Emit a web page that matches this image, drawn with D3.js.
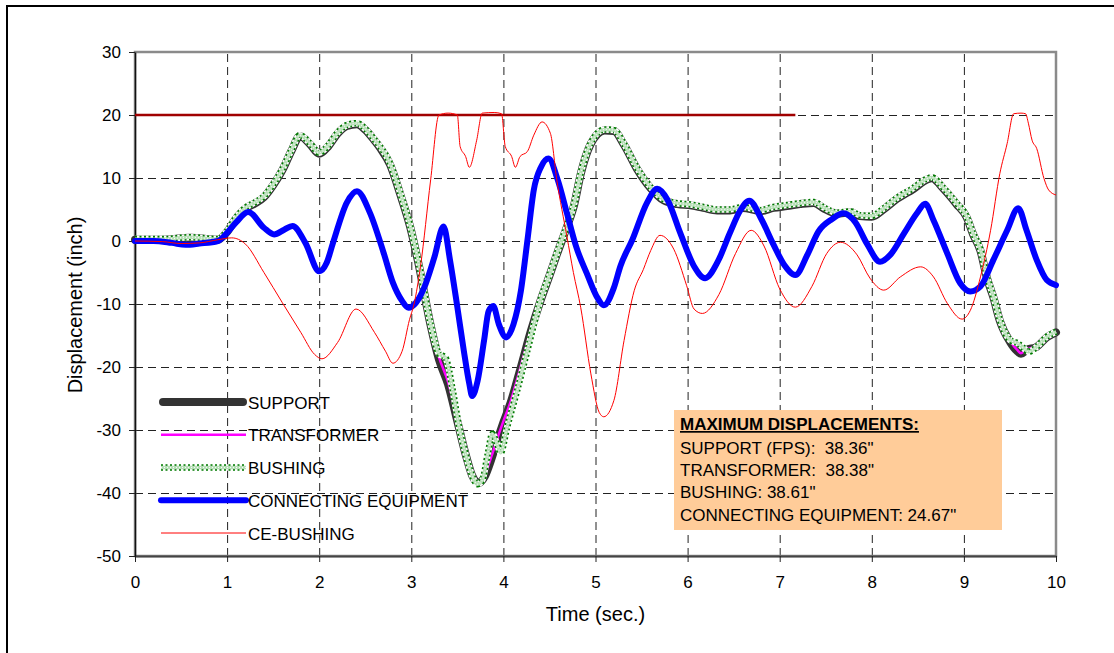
<!DOCTYPE html>
<html>
<head>
<meta charset="utf-8">
<script src="https://cdn.jsdelivr.net/npm/d3@7"></script>
<style>
body { margin: 0; background: #fff; }
text { font-family: "Liberation Sans", Arial, sans-serif; }
</style>
</head>
<body>
<div id="chart"></div>
<script>
const width = 1114
const height = 653

// axis ticks
const timeTicks = [0, 1, 2, 3, 4, 5, 6, 7, 8, 9, 10]
const dispTicks = [-50, -40, -30, -20, -10, 0, 10, 20, 30]

// series, [time (sec), displacement (inch)]
const limitLine = [[0, 20], [7.17, 20]]

const support = [[0,0.2],[0.3,0.2],[0.6,0.5],[0.9,0.2],[1.0,1.45],[1.1,3.65],[1.2,5.15],[1.3,5.95],[1.4,6.95],[1.5,8.85],
  [1.6,11.25],[1.7,14.35],[1.79,16.65],[1.9,15.35],[2.0,13.85],[2.1,15.05],[2.2,17.05],[2.3,18.25],[2.41,18.55],[2.5,17.65],
  [2.6,15.95],[2.66,14.8],[2.77,12.1],[2.88,7.4],[2.99,2.1],[3.08,-3.7],[3.21,-13.4],[3.3,-18.8],[3.4,-22.8],[3.5,-28.6],
  [3.6,-34.4],[3.66,-37.2],[3.73,-38.4],[3.8,-37.3],[3.87,-34.6],[3.94,-31.4],[4.0,-28.8],[4.08,-25.6],[4.19,-20.0],[4.3,-14.2],
  [4.4,-9.6],[4.51,-5.1],[4.58,-2.15],[4.69,2.25],[4.77,5.85],[4.84,10.65],[4.95,15.45],[5.1,17.55],[5.2,17.45],[5.31,15.25],
  [5.45,11.45],[5.6,8.35],[5.74,6.45],[5.89,5.85],[6.03,5.65],[6.17,5.25],[6.32,4.85],[6.46,4.85],[6.6,5.25],[6.79,4.75],
  [6.93,5.25],[7.08,5.55],[7.22,5.85],[7.37,6.05],[7.48,5.15],[7.62,4.35],[7.77,4.55],[7.87,3.95],[8.0,3.85],[8.13,5.05],
  [8.27,6.65],[8.45,8.25],[8.6,9.75],[8.65,9.95],[8.78,8.25],[8.92,5.85],[9.03,3.75],[9.1,1.05],[9.18,-1.55],[9.25,-5.85],
  [9.32,-8.95],[9.39,-12.65],[9.5,-16.0],[9.58,-17.5],[9.62,-17.9],[9.68,-17.3],[9.79,-16.8],[9.9,-15.3],[10,-14.5]]

const transformer = [[0,0.2],[0.3,0.2],[0.6,0.5],[0.9,0.2],[1.0,1.45],[1.1,3.65],[1.2,5.15],[1.3,5.95],[1.4,6.95],[1.5,8.85],
  [1.6,11.25],[1.7,14.35],[1.79,16.65],[1.9,15.35],[2.0,13.85],[2.1,15.05],[2.2,17.05],[2.3,18.25],[2.41,18.55],[2.5,17.65],
  [2.6,15.95],[2.66,14.8],[2.77,12.1],[2.88,7.4],[2.99,2.1],[3.08,-3.6],[3.21,-13.2],[3.3,-18.4],[3.4,-22.4],[3.5,-28.3],
  [3.6,-34.2],[3.66,-37.1],[3.73,-38.4],[3.8,-37.0],[3.87,-34.2],[3.94,-31.1],[4.0,-28.6],[4.08,-25.4],[4.19,-19.8],[4.3,-14.1],
  [4.4,-9.5],[4.51,-5.05],[4.58,-2.1],[4.69,2.3],[4.77,5.9],[4.84,10.7],[4.95,15.5],[5.1,17.6],[5.2,17.5],[5.31,15.3],
  [5.45,11.5],[5.6,8.4],[5.74,6.5],[5.89,5.9],[6.03,5.7],[6.17,5.3],[6.32,4.9],[6.46,4.9],[6.6,5.3],[6.79,4.8],
  [6.93,5.3],[7.08,5.6],[7.22,5.9],[7.37,6.1],[7.48,5.2],[7.62,4.4],[7.77,4.6],[7.87,4.0],[8.0,3.9],[8.13,5.1],
  [8.27,6.7],[8.45,8.3],[8.6,9.8],[8.65,10.0],[8.78,8.3],[8.92,5.9],[9.03,3.8],[9.1,1.1],[9.18,-1.5],[9.25,-5.8],
  [9.32,-8.9],[9.39,-12.6],[9.5,-15.8],[9.58,-17.3],[9.62,-17.8],[9.68,-17.2],[9.79,-16.7],[9.9,-15.25],[10,-14.45]]

const bushing = [[0,0.3],[0.3,0.3],[0.6,0.6],[0.9,0.3],[1.0,1.6],[1.1,3.8],[1.2,5.3],[1.3,6.1],[1.4,7.1],[1.5,9.0],
  [1.6,11.4],[1.7,14.5],[1.79,16.8],[1.9,15.5],[2.0,14.0],[2.1,15.2],[2.2,17.2],[2.3,18.4],[2.41,18.7],[2.5,17.8],
  [2.6,16.1],[2.66,15.0],[2.77,12.3],[2.88,7.6],[2.99,2.3],[3.08,-3.5],[3.21,-13.2],[3.3,-17.9],[3.37,-18.5],[3.45,-23.7],
  [3.52,-29.6],[3.57,-32.7],[3.64,-36.4],[3.72,-38.6],[3.77,-38.0],[3.83,-33.8],[3.88,-30.6],[3.93,-32.2],[3.97,-33.6],[4.04,-29.6],
  [4.15,-23.7],[4.26,-17.4],[4.4,-9.5],[4.51,-5.0],[4.58,-2.0],[4.69,2.4],[4.77,6.0],[4.84,10.8],[4.95,15.6],[5.1,17.7],
  [5.2,17.6],[5.31,15.4],[5.45,11.6],[5.6,8.5],[5.74,6.6],[5.89,6.0],[6.03,5.8],[6.17,5.4],[6.32,5.0],[6.46,5.0],
  [6.6,5.4],[6.79,4.9],[6.93,5.4],[7.08,5.7],[7.22,6.0],[7.37,6.2],[7.48,5.3],[7.62,4.5],[7.77,4.7],[7.87,4.1],
  [8.0,4.0],[8.13,5.2],[8.27,6.8],[8.45,8.4],[8.6,9.9],[8.65,10.1],[8.78,8.4],[8.92,6.0],[9.03,3.9],[9.1,1.2],
  [9.18,-1.4],[9.25,-5.7],[9.32,-8.8],[9.39,-12.5],[9.5,-15.7],[9.58,-16.2],[9.65,-17.0],[9.7,-17.6],[9.79,-16.8],[9.9,-15.2],
  [10,-14.4]]

const connectingEquipment = [[0,0],[0.2,0],[0.4,-0.3],[0.55,-0.6],[0.7,-0.4],[0.9,0],[1.0,1.3],[1.1,3.0],[1.23,4.6],[1.4,2.1],
  [1.51,1.05],[1.62,1.8],[1.71,2.4],[1.85,-0.3],[2.0,-4.8],[2.08,-3.5],[2.15,-0.3],[2.3,6.1],[2.41,7.9],[2.55,4.5],
  [2.7,-1.9],[2.8,-6.6],[2.9,-9.5],[2.97,-10.6],[3.05,-9.8],[3.14,-7.4],[3.25,-2.6],[3.35,2.3],[3.42,-3.0],[3.5,-10.5],
  [3.57,-17.4],[3.63,-22.7],[3.66,-24.6],[3.72,-22.2],[3.79,-15.8],[3.84,-11.1],[3.89,-10.3],[3.95,-13.2],[4.03,-15.3],[4.11,-13.2],
  [4.19,-7.9],[4.26,0],[4.33,8.1],[4.41,11.8],[4.49,13.1],[4.59,9.7],[4.69,4.4],[4.79,-0.9],[4.91,-5.3],[5.02,-9.0],
  [5.09,-10.2],[5.2,-7.4],[5.27,-4.0],[5.4,0.2],[5.56,6.1],[5.67,8.3],[5.78,6.6],[5.92,1.3],[6.07,-4.0],[6.19,-5.9],
  [6.33,-3.2],[6.46,1.3],[6.57,4.8],[6.67,6.4],[6.8,3.5],[6.93,-0.5],[7.05,-3.8],[7.17,-5.4],[7.3,-2.2],[7.42,1.5],
  [7.57,3.5],[7.69,4.4],[7.82,3.0],[7.95,-0.5],[8.09,-3.3],[8.2,-2.2],[8.35,1.2],[8.49,4.4],[8.58,5.9],[8.67,3.3],
  [8.82,-2.0],[8.96,-6.7],[9.07,-8.0],[9.18,-7.2],[9.32,-3.0],[9.47,1.7],[9.59,5.2],[9.68,1.7],[9.79,-3.0],[9.9,-6.2],
  [10,-7.0]]

const ceBushing = [[0,0],[0.3,-0.1],[0.5,-0.4],[0.7,-0.3],[0.9,0.2],[1.05,0.5],[1.2,-0.5],[1.4,-5.0],[1.6,-9.8],[1.8,-14.5],
  [1.95,-18.0],[2.03,-18.7],[2.2,-16.1],[2.4,-10.8],[2.6,-14.5],[2.72,-17.5],[2.8,-19.4],[2.9,-17.5],[2.98,-12.5],[3.03,-10.0],
  [3.1,-4.0],[3.21,9.7],[3.3,20.0],[3.4,20.3],[3.5,20.0],[3.53,15.0],[3.59,13.4],[3.63,11.7],[3.71,16.0],[3.77,20.3],
  [3.9,20.4],[3.98,20.2],[4.02,15.0],[4.09,13.4],[4.13,11.7],[4.18,13.4],[4.26,14.2],[4.33,16.8],[4.42,18.9],[4.51,17.1],
  [4.58,9.7],[4.69,0.7],[4.76,-5.0],[4.84,-10.6],[4.95,-21.1],[5.04,-27.2],[5.09,-27.9],[5.2,-25.3],[5.31,-15.8],[5.42,-7.9],
  [5.52,-4.5],[5.6,-1.5],[5.7,0.9],[5.85,-1.3],[5.99,-7.1],[6.07,-10.8],[6.16,-11.5],[6.34,-8.5],[6.52,-2.0],[6.69,1.7],
  [6.83,-0.8],[7.0,-7.6],[7.17,-10.5],[7.35,-7.2],[7.51,-2.0],[7.66,-0.2],[7.84,-2.2],[7.98,-5.9],[8.13,-7.8],[8.31,-5.7],
  [8.53,-4.1],[8.67,-5.7],[8.82,-9.9],[8.98,-12.4],[9.07,-11.0],[9.18,-5.7],[9.29,1.7],[9.39,10.7],[9.47,15.5],[9.54,20.2],
  [9.62,20.3],[9.67,20.2],[9.7,18.7],[9.74,16.0],[9.79,14.7],[9.87,9.9],[9.92,8.1],[10,7.3]]

const legendNames = ["SUPPORT", "TRANSFORMER", "BUSHING", "CONNECTING EQUIPMENT", "CE-BUSHING"]
const maxTitle = "MAXIMUM DISPLACEMENTS:"
const maxLabels = ["SUPPORT (FPS):  38.36\"", "TRANSFORMER:  38.38\"", "BUSHING: 38.61\"", "CONNECTING EQUIPMENT: 24.67\""]

document.addEventListener('DOMContentLoaded', function ()
{
const svg = d3.select("#chart")
    .append("svg")
    .attr("width", width)
    .attr("height", height)

// outer frame (right/bottom edges fall outside the picture)
svg.append("rect")
    .attr("x", 7)
    .attr("y", 6)
    .attr("width", 1130)
    .attr("height", 670)
    .attr("fill", "white")
    .attr("stroke", "black")
    .attr("stroke-width", 2)

const x = d3.scaleLinear().domain([0, 10]).range([135, 1056])
const y = d3.scaleLinear().domain([-50, 30]).range([556, 52])

/* grid */
svg.append("g")
    .attr("class", "grid")
    .attr("transform", "translate(0,556)")
    .call(d3.axisBottom(x).tickValues(timeTicks.slice(1, -1)).tickSize(-(556 - 52)).tickFormat(""))
svg.append("g")
    .attr("class", "grid")
    .attr("transform", "translate(135,0)")
    .call(d3.axisLeft(y).tickValues(dispTicks.slice(1, -1)).tickSize(-(1056 - 135)).tickFormat(""))
svg.selectAll(".grid .domain").remove()
svg.selectAll(".grid line")
    .attr("stroke", "#333")
    .attr("stroke-width", 1)
    .attr("stroke-dasharray", "8,5")

/* plot border */
svg.append("rect")
    .attr("x", 135)
    .attr("y", 52)
    .attr("width", 1056 - 135)
    .attr("height", 556 - 52)
    .attr("fill", "none")
    .attr("stroke", "#8a8a8a")
    .attr("stroke-width", 2.5)

/* axes */
const xAxis = svg.append("g")
    .attr("transform", "translate(0,556)")
    .call(d3.axisBottom(x).tickValues(timeTicks).tickSize(6).tickPadding(14).tickSizeOuter(0)
        .tickFormat(d => String(d)))
const yAxis = svg.append("g")
    .attr("transform", "translate(135,0)")
    .call(d3.axisLeft(y).tickValues(dispTicks).tickSize(6).tickPadding(8).tickSizeOuter(0)
        .tickFormat(d => String(d)))
xAxis.select(".domain").attr("stroke", "#444").attr("stroke-width", 2)
yAxis.select(".domain").attr("stroke", "#111").attr("stroke-width", 1.5)
svg.selectAll(".tick line").attr("stroke", "#222")
svg.selectAll(".tick text")
    .attr("font-size", 17)
    .attr("font-family", "Liberation Sans, Arial, sans-serif")
    .attr("fill", "black")

svg.append("text")
    .attr("x", (135 + 1056) / 2)
    .attr("y", 621)
    .attr("font-size", 20)
    .attr("text-anchor", "middle")
    .text("Time (sec.)")
svg.append("text")
    .attr("transform", "translate(82,305) rotate(-90)")
    .attr("font-size", 20)
    .attr("text-anchor", "middle")
    .text("Displacement (inch)")

/* series */
const line = d3.line()
    .x(d => x(d[0]))
    .y(d => y(d[1]))
    .curve(d3.curveMonotoneX)

svg.append("path").attr("d", line(limitLine))
    .attr("fill", "none").attr("stroke", "#a00000").attr("stroke-width", 2.5)

function drawSupport(g, d) {
    g.append("path").attr("d", d).attr("fill", "none")
        .attr("stroke", "#333").attr("stroke-width", 8).attr("stroke-linecap", "round").attr("stroke-linejoin", "round")
}
function drawTransformer(g, d) {
    g.append("path").attr("d", d).attr("fill", "none")
        .attr("stroke", "#ff00ff").attr("stroke-width", 2.5).attr("stroke-linejoin", "round")
}
function drawBushing(g, d) {
    g.append("path").attr("d", d).attr("fill", "none")
        .attr("stroke", "white").attr("stroke-width", 6.5).attr("stroke-linejoin", "round")
    g.append("path").attr("d", d).attr("fill", "none")
        .attr("stroke", "#007a00").attr("stroke-width", 6.5).attr("stroke-dasharray", "2,2.5")
    g.append("path").attr("d", d).attr("fill", "none")
        .attr("stroke", "#b6ddb6").attr("stroke-width", 3.4).attr("stroke-linejoin", "round")
    g.append("path").attr("d", d).attr("fill", "none")
        .attr("stroke", "#f2faf2").attr("stroke-width", 1.2).attr("stroke-dasharray", "1,2")
}
function drawCE(g, d) {
    g.append("path").attr("d", d).attr("fill", "none")
        .attr("stroke", "#0000ff").attr("stroke-width", 6).attr("stroke-linecap", "round").attr("stroke-linejoin", "round")
}
function drawCEBushing(g, d) {
    g.append("path").attr("d", d).attr("fill", "none")
        .attr("stroke", "#ff0000").attr("stroke-width", 1)
}
const drawers = [drawSupport, drawTransformer, drawBushing, drawCE, drawCEBushing]
const seriesData = [support, transformer, bushing, connectingEquipment, ceBushing]

const plot = svg.append("g")
seriesData.forEach((s, i) => drawers[i](plot, line(s)))

/* legend */
const legend = svg.append("g")
const rowY = d3.scaleLinear().domain([0, 4]).range([402, 533])
legendNames.forEach((name, i) => {
    const ly = rowY(i)
    drawers[i](legend, `M${i === 0 ? 163 : 161},${ly}L${i === 0 ? 243 : 246},${ly}`)
    legend.append("text")
        .attr("x", 248)
        .attr("y", ly + 6.5)
        .attr("font-size", 17)
        .attr("fill", "black")
        .text(name)
})

/* maximum displacement box */
svg.append("rect")
    .attr("x", 674)
    .attr("y", 410)
    .attr("width", 328)
    .attr("height", 120)
    .attr("fill", "#ffcc99")
svg.append("text")
    .attr("x", 680)
    .attr("y", 430)
    .attr("font-size", 17)
    .attr("font-weight", "bold")
    .attr("text-decoration", "underline")
    .attr("fill", "black")
    .text(maxTitle)
svg.selectAll(".maxlabel")
    .data(maxLabels)
    .enter()
    .append("text")
    .attr("class", "maxlabel")
    .attr("x", 680)
    .attr("y", (_, i) => 454 + 22.2 * i)
    .attr("font-size", 17)
    .attr("fill", "black")
    .style("white-space", "pre")
    .text(d => d)
}, { once: true });
</script>
</body>
</html>
